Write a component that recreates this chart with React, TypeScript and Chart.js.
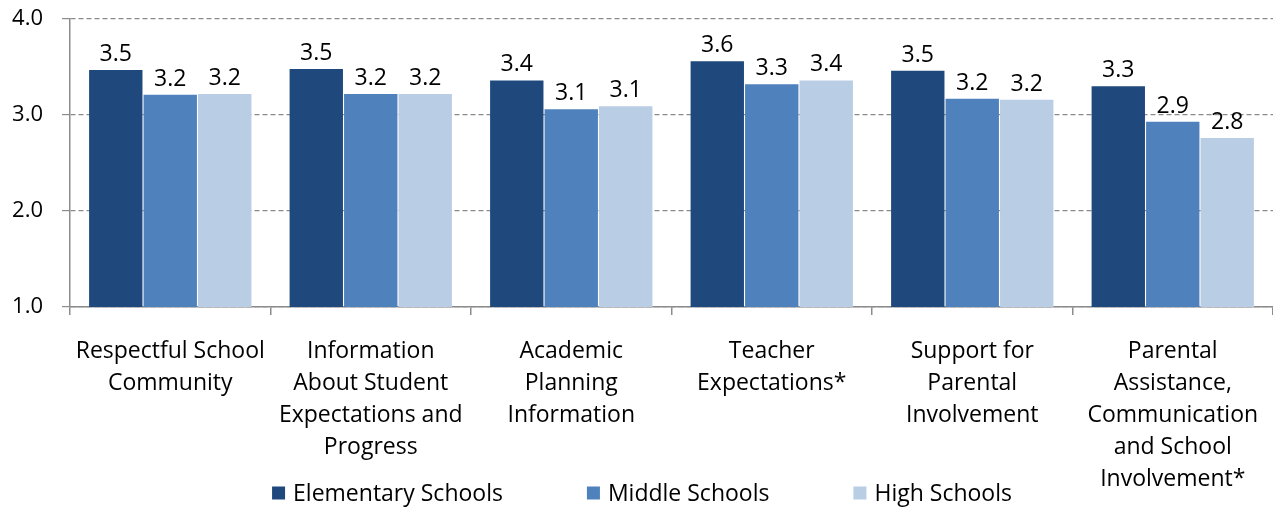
import React, { useEffect, useRef } from "react";
import { Chart, registerables } from "chart.js";

Chart.register(...registerables);

const FONT = '"Open Sans", Lato, sans-serif';
const FS = 23;

const categories: string[][] = [
  ["Respectful School", "Community"],
  ["Information", "About Student", "Expectations and", "Progress"],
  ["Academic", "Planning", "Information"],
  ["Teacher", "Expectations*"],
  ["Support for", "Parental", "Involvement"],
  ["Parental", "Assistance,", "Communication", "and School", "Involvement*"],
];

const seriesNames = ["Elementary Schools", "Middle Schools", "High Schools"];
const seriesColors = ["#1F497D", "#4F81BD", "#B9CDE5"];

const elementary = [3.47, 3.48, 3.36, 3.56, 3.46, 3.3];
const middle = [3.21, 3.22, 3.06, 3.32, 3.17, 2.93];
const high = [3.22, 3.22, 3.09, 3.36, 3.16, 2.76];

const yTicks = [1, 2, 3, 4];

const valueLabels = {
  id: "valueLabels",
  afterDatasetsDraw(chart: any) {
    const ctx = chart.ctx;
    ctx.save();
    ctx.font = `${FS}px ${FONT}`;
    ctx.fillStyle = "#000";
    ctx.textAlign = "center";
    ctx.textBaseline = "alphabetic";
    chart.data.datasets.forEach((ds: any, i: number) => {
      const meta = chart.getDatasetMeta(i);
      meta.data.forEach((bar: any, j: number) => {
        ctx.fillText(Number(ds.data[j]).toFixed(1), bar.x, bar.y - 9);
      });
    });
    ctx.restore();
  },
};

const bottomLegend = {
  id: "bottomLegend",
  afterDraw(chart: any) {
    const ctx = chart.ctx;
    ctx.save();
    ctx.font = `${FS}px ${FONT}`;
    ctx.textBaseline = "middle";
    ctx.textAlign = "left";
    const box = 13;
    const gapBoxText = 8;
    const gapItems = 84;
    const items = chart.data.datasets.map((ds: any) => ({
      label: ds.label,
      color: ds.backgroundColor,
      w: ctx.measureText(ds.label).width,
    }));
    const total =
      items.reduce((a: number, it: any) => a + box + gapBoxText + it.w, 0) +
      gapItems * (items.length - 1);
    let x = 642 - total / 2;
    const y = 493;
    items.forEach((it: any) => {
      ctx.fillStyle = it.color;
      ctx.fillRect(x, y - box / 2, box, box);
      ctx.fillStyle = "#000";
      ctx.fillText(it.label, x + box + gapBoxText, y + 1);
      x += box + gapBoxText + it.w + gapItems;
    });
    ctx.restore();
  },
};

export default function App() {
  const ref = useRef<HTMLCanvasElement | null>(null);

  useEffect(() => {
    document.body.style.margin = "0";
    const canvas = ref.current;
    if (!canvas) return;
    const chart = new Chart(canvas, {
      type: "bar",
      data: {
        labels: categories,
        datasets: [
          { label: seriesNames[0], data: elementary, backgroundColor: seriesColors[0] },
          { label: seriesNames[1], data: middle, backgroundColor: seriesColors[1] },
          { label: seriesNames[2], data: high, backgroundColor: seriesColors[2] },
        ].map((d) => ({
          ...d,
          borderWidth: 0,
          barPercentage: 0.98,
          categoryPercentage: 0.815,
        })),
      },
      options: {
        responsive: false,
        animation: false,
        layout: { padding: { top: 19, right: 0, left: 0, bottom: 0 } },
        plugins: {
          legend: { display: false },
          tooltip: { enabled: false },
        },
        scales: {
          x: {
            grid: {
              display: true,
              drawOnChartArea: false,
              drawTicks: true,
              tickLength: 8,
              color: "#8c8c8c",
              offset: true,
              lineWidth: 1.5,
            },
            border: { color: "#8c8c8c", width: 1.5 },
            ticks: {
              font: { size: FS, family: FONT, lineHeight: 32 / FS },
              color: "#000",
              padding: 20,
              maxRotation: 0,
              autoSkip: false,
            },
            afterFit: (s: any) => {
              s.height = 200;
              s.paddingLeft = 0;
              s.paddingRight = 0;
            },
          },
          y: {
            min: 1,
            max: 4,
            afterBuildTicks: (s: any) => {
              s.ticks = yTicks.map((v) => ({ value: v }));
            },
            ticks: {
              callback: (v: any) => Number(v).toFixed(1),
              font: { size: 22, family: FONT },
              color: "#000",
              padding: 19,
            },
            grid: {
              color: "#8c8c8c",
              tickLength: 8,
              tickColor: "#8c8c8c",
              tickBorderDash: [],
              lineWidth: 1.2,
            },
            border: { dash: [5, 3], color: "#8c8c8c", width: 1.5 },
            afterFit: (s: any) => {
              s.width = 70;
              s.paddingTop = 0;
              s.paddingBottom = 0;
            },
          },
        },
      },
      plugins: [valueLabels, bottomLegend],
    });
    return () => chart.destroy();
  }, []);

  return (
    <div style={{ width: 1273, height: 507 }}>
      <canvas ref={ref} width={1273} height={507} style={{ display: "block" }} />
    </div>
  );
}
